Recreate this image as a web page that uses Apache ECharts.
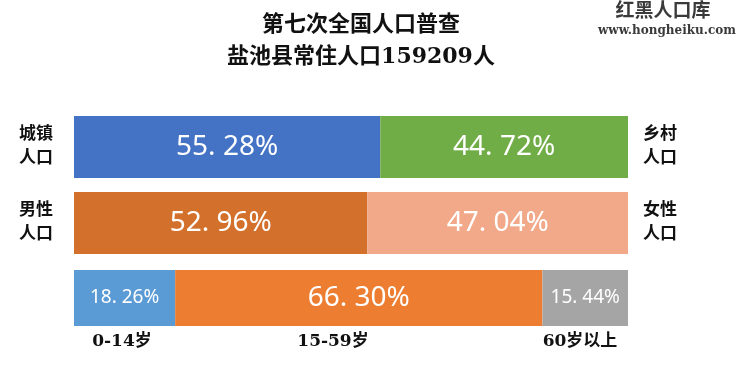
<!DOCTYPE html>
<html><head><meta charset="utf-8">
<script src="https://cdn.jsdelivr.net/npm/echarts@6/dist/echarts.min.js"></script>
<style>html,body{margin:0;padding:0;background:#fff}#c{width:740px;height:374px}</style>
</head><body><div id="c"></div>
<script>
// ---- data ----
const titleLines = ['第七次全国人口普查', '盐池县常住人口159209人'];
const watermark = ['红黑人口库', 'www.hongheiku.com'];
const urbanRural = [55.28, 44.72];
const urbanRuralLabels = ['城镇\n人口', '乡村\n人口'];
const maleFemale = [52.96, 47.04];
const maleFemaleLabels = ['男性\n人口', '女性\n人口'];
const ageShares = [18.26, 66.30, 15.44];
const ageLabels = ['0-14岁', '15-59岁', '60岁以上'];

const rows = [
  {vals: urbanRural, colors: ['#4472C4', '#70AD47'], top: 116, h: 62, fs: 28, names: urbanRuralLabels},
  {vals: maleFemale, colors: ['#D2702C', '#F1A98A'], top: 192, h: 62, fs: 28, names: maleFemaleLabels},
  {vals: ageShares, colors: ['#5B9BD5', '#ED7D31', '#A5A5A5'], top: 270, h: 56, fs: [19, 28, 19], names: null}
];
const GL = 74, GW = 554;
const serifCJK = "'DejaVu Serif', 'Noto Sans CJK SC', serif";

const grid = [], xAxis = [], yAxis = [], series = [];
rows.forEach((r, i) => {
  grid.push({left: GL, width: GW, top: r.top, height: r.h});
  xAxis.push({type: 'value', gridIndex: i, min: 0, max: 100, show: false});
  const lbl = {fontFamily: serifCJK, fontWeight: 'bold', fontSize: 17, color: '#111', lineHeight: 24};
  yAxis.push({type: 'category', gridIndex: i, data: [r.names ? r.names[0] : ''], position: 'left',
    axisLine: {show: false}, axisTick: {show: false}, splitLine: {show: false},
    axisLabel: Object.assign({show: !!r.names, margin: 21, align: 'right'}, lbl)});
  yAxis.push({type: 'category', gridIndex: i, data: [r.names ? r.names[1] : ''], position: 'right',
    axisLine: {show: false}, axisTick: {show: false}, splitLine: {show: false},
    axisLabel: Object.assign({show: !!r.names, margin: 15, align: 'left'}, lbl)});
  r.vals.forEach((v, j) => {
    series.push({
      type: 'bar', xAxisIndex: i, yAxisIndex: i * 2, stack: 'row' + i,
      barWidth: '100%', data: [v], silent: true,
      itemStyle: {color: r.colors[j]},
      label: {show: true, position: 'inside', color: '#fff',
        fontFamily: "'Noto Sans', 'Liberation Sans', sans-serif",
        fontSize: Array.isArray(r.fs) ? r.fs[j] : r.fs,
        formatter: p => p.value.toFixed(2).replace('.', '. ') + '%'}
    });
  });
});

// bottom age labels (centres under their segments)
const ageLabelX = [122, 333, 580];
const graphic = ageLabels.map((t, k) => ({
  type: 'text', x: ageLabelX[k], y: 342,
  style: {text: t, fill: '#111', font: 'bold 17px ' + serifCJK, textAlign: 'center', textVerticalAlign: 'middle'}
}));
graphic.push({type: 'text', x: 663, y: 12,
  style: {text: watermark[0], fill: '#3a3a3a', font: 'bold 19px ' + serifCJK, textAlign: 'center', textVerticalAlign: 'middle'}});
graphic.push({type: 'text', x: 667, y: 31,
  style: {text: watermark[1], fill: '#3a3a3a', font: 'bold 12px ' + serifCJK, textAlign: 'center', textVerticalAlign: 'middle'}});

const chart = echarts.init(document.getElementById('c'));
chart.setOption({
  animation: false,
  title: {text: titleLines.join('\n'), left: 356, textAlign: 'center', top: 4,
    textStyle: {fontFamily: serifCJK, fontWeight: 'bold', fontSize: 22, lineHeight: 32, color: '#111'}},
  grid, xAxis, yAxis, series, graphic
});
</script></body></html>
